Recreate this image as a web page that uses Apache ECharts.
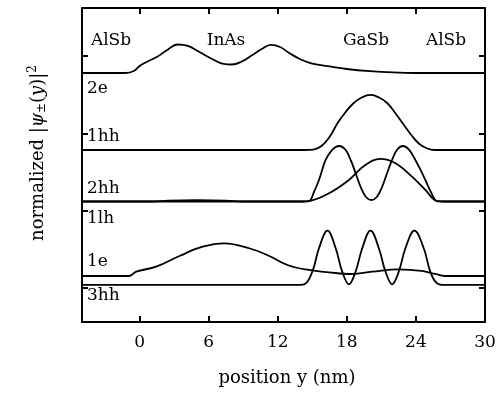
<!DOCTYPE html>
<html>
<head>
<meta charset="utf-8">
<script src="https://cdn.jsdelivr.net/npm/echarts@6/dist/echarts.min.js"></script>
<style>
html,body{margin:0;padding:0;background:#fff}
#main{width:502px;height:397px}
</style>
</head>
<body>
<div id="main"></div>
<script>
// tick positions
var xTicks=[0,6,12,18,24,30];
var yTicks=[0,1,2,3];

// 2e (top curve)
var e2X=[-5,-1.2,-0.5,0,0.6,1.5,2.4,3.3,4.2,5.2,6.3,7.3,8.0,8.8,9.8,10.6,11.4,12.2,13.0,14.0,15.0,16.5,18.0,20,22,24,30];
var e2Y=[2.781,2.781,2.807,2.872,2.924,2.988,3.079,3.150,3.131,3.053,2.963,2.898,2.891,2.924,3.014,3.092,3.144,3.118,3.040,2.956,2.904,2.866,2.833,2.805,2.788,2.781,2.781];
// 1hh
var hh1X=[-5,14.4,15.1,15.8,16.5,17.2,17.9,18.6,19.3,20.05,20.8,21.5,22.2,22.9,23.6,24.3,25.0,25.6,30];
var hh1Y=[1.785,1.785,1.791,1.837,1.953,2.134,2.277,2.393,2.464,2.497,2.464,2.393,2.264,2.121,1.979,1.863,1.804,1.785,1.785];
// 2hh
var hh2X=[-5,14.2,14.72,15.15,15.58,16.16,16.75,17.33,17.9,18.33,18.76,19.19,19.66,20.14,20.6,21.07,21.5,21.93,22.35,22.87,23.4,23.95,24.4,24.82,25.3,25.83,26.4,30];
var hh2Y=[1.119,1.119,1.125,1.242,1.397,1.656,1.790,1.837,1.785,1.656,1.488,1.310,1.177,1.138,1.177,1.310,1.488,1.656,1.785,1.837,1.790,1.656,1.527,1.397,1.242,1.125,1.119,1.119];
// 1lh
var lh1X=[-5,1.0,2.5,5,7.5,9,14.0,14.72,16.45,18.18,19.6,20.92,22.22,23.66,24.82,25.83,26.5,30];
var lh1Y=[1.119,1.119,1.13,1.135,1.13,1.119,1.119,1.125,1.225,1.397,1.591,1.669,1.613,1.440,1.268,1.125,1.119,1.119];
// 1e
var e1X=[-5,-0.9,-0.3,1.44,3.46,5.48,7.36,9.52,11.26,12.9,14.72,16.45,18.18,20.2,22.5,24.5,25.7,26.5,30];
var e1Y=[0.155,0.155,0.211,0.276,0.414,0.534,0.578,0.514,0.414,0.294,0.233,0.203,0.181,0.211,0.242,0.220,0.181,0.155,0.155];
// 3hh
var hh3X=[-5,13.56,14.29,15.0,15.58,16.32,17.03,17.6,18.18,18.76,19.34,20.06,20.78,21.36,21.93,22.51,23.09,23.87,24.68,25.25,25.83,26.5,30];
var hh3Y=[0.039,0.039,0.048,0.211,0.514,0.741,0.514,0.211,0.048,0.211,0.514,0.741,0.514,0.211,0.048,0.211,0.514,0.741,0.514,0.211,0.061,0.039,0.039];

var layers=['AlSb','InAs','GaSb','AlSb'];
var states=['2e','1hh','2hh','1lh','1e','3hh'];

var font='DejaVu Serif';

function pairs(xs,ys){
  var out=[];
  for(var i=0;i<xs.length;i++) out.push([xs[i],ys[i]]);
  return out;
}
function curve(xs,ys){
  return {
    type:'line',
    data:pairs(xs,ys),
    showSymbol:false,
    smooth:0.4,
    lineStyle:{color:'#000',width:1.8},
    silent:true
  };
}

var frame={onZero:false,lineStyle:{color:'#000',width:2}};
var tick={inside:true,length:6,lineStyle:{color:'#000',width:2}};

var myChart=echarts.init(document.getElementById('main'));

var layerX=[111,226,366,446];
var stateY=[89,137,189,219,262,296];
var texts=[];
layers.forEach(function(t,i){
  texts.push({type:'text',x:layerX[i],y:41,style:{text:t,font:'17px '+font,fill:'#000',textAlign:'center',textVerticalAlign:'middle'}});
});
states.forEach(function(t,i){
  texts.push({type:'text',x:87,y:stateY[i],style:{text:t,font:'17px '+font,fill:'#000',textAlign:'left',textVerticalAlign:'middle'}});
});
texts.push({type:'text',x:287,y:378,style:{text:'position y (nm)',font:'18px '+font,fill:'#000',textAlign:'center',textVerticalAlign:'middle'}});
texts.push({type:'text',x:38,y:153,rotation:Math.PI/2,style:{
  text:'{a|normalized |}{p|ψ}{s|±}{a|(}{p|y}{a|)|}{t|2}',
  textAlign:'center',textVerticalAlign:'middle',fill:'#000',
  rich:{
    a:{fontFamily:font,fontSize:18,fill:'#000'},
    p:{fontFamily:font,fontSize:18,fontStyle:'italic',fill:'#000'},
    s:{fontFamily:font,fontSize:12,fill:'#000',padding:[8,0,0,0]},
    t:{fontFamily:font,fontSize:12,fill:'#000',padding:[0,0,10,0]}
  }
}});

var option={
  animation:false,
  grid:{left:82,right:17,top:8,bottom:75},
  xAxis:[{
    type:'value',min:-5,max:30,position:'bottom',
    axisLine:frame,
    axisTick:Object.assign({customValues:xTicks},tick),
    axisLabel:{customValues:xTicks,margin:12,color:'#000',fontFamily:font,fontSize:17},
    splitLine:{show:false}
  },{
    type:'value',min:-5,max:30,position:'top',
    axisLine:frame,
    axisTick:Object.assign({customValues:xTicks},tick),
    axisLabel:{show:false},
    splitLine:{show:false}
  }],
  yAxis:[{
    type:'value',min:-0.44,max:3.622,position:'left',
    axisLine:frame,
    axisTick:Object.assign({customValues:yTicks},tick),
    axisLabel:{show:false},
    splitLine:{show:false}
  },{
    type:'value',min:-0.44,max:3.622,position:'right',
    axisLine:frame,
    axisTick:Object.assign({customValues:yTicks},tick),
    axisLabel:{show:false},
    splitLine:{show:false}
  }],
  series:[
    curve(e2X,e2Y),
    curve(hh1X,hh1Y),
    curve(hh2X,hh2Y),
    curve(lh1X,lh1Y),
    curve(e1X,e1Y),
    curve(hh3X,hh3Y)
  ],
  graphic:texts
};
myChart.setOption(option);
</script>
</body>
</html>
